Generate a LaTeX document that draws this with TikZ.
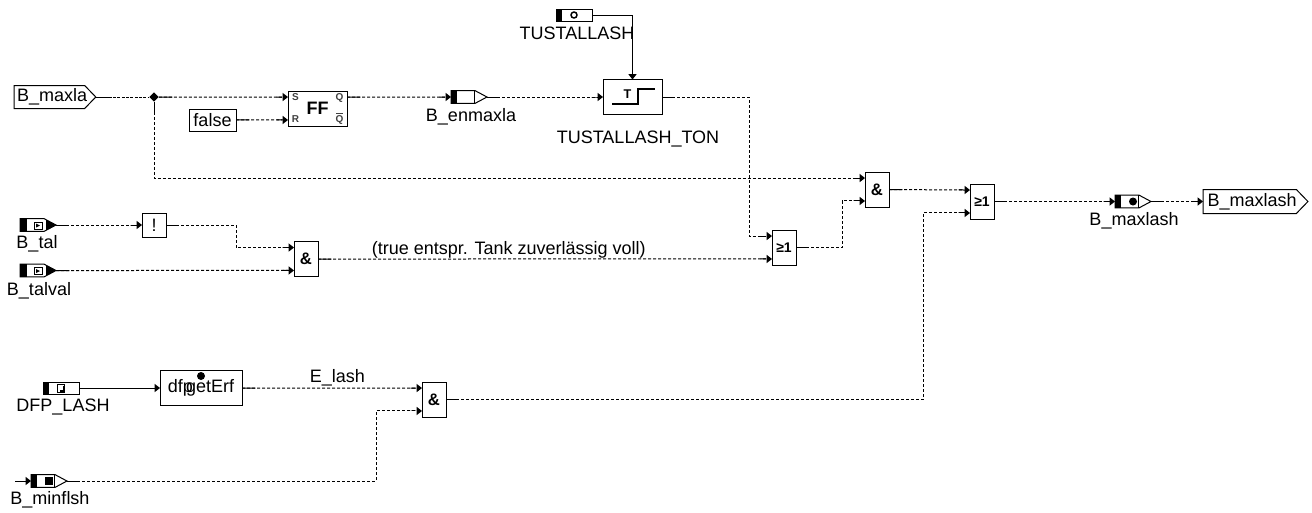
\documentclass[tikz,border=0pt]{standalone}
\usepackage{fontspec}
\setmainfont{Liberation Sans}
\usetikzlibrary{shapes.geometric, shapes.symbols, arrows.meta, positioning, calc}
\tikzstyle{txt} = [font=\fontsize{13.5pt}{16pt}\selectfont, inner sep=0pt, outer sep=0pt]
\tikzstyle{lbl} = [txt, fill=none]
\tikzstyle{gate} = [rectangle, draw=black, fill=white, line width=0.75pt, inner sep=0pt, outer sep=0pt,
    minimum width=18pt, minimum height=26.25pt, font=\fontsize{12.5pt}{14pt}\selectfont\bfseries]
\tikzstyle{orgate} = [gate, font=\fontsize{10.5pt}{13pt}\selectfont\bfseries]
\tikzstyle{block} = [gate, minimum width=44.25pt, font=\fontsize{13.5pt}{16pt}\selectfont\bfseries]
\tikzstyle{pin} = [inner sep=0pt, outer sep=0pt, text=black!75, font=\fontsize{7.5pt}{9pt}\selectfont\bfseries]
\tikzstyle{flow} = [signal, signal to=east, signal from=nowhere, signal pointer angle=92, draw=black,
    fill=white, line width=0.75pt, inner sep=0pt, outer sep=0pt, anchor=west, minimum height=17.25pt,
    font=\fontsize{13.5pt}{16pt}\selectfont]
\tikzstyle{port} = [signal, signal to=east, signal from=nowhere, signal pointer angle=56, draw=black,
    fill=white, line width=0.75pt, inner sep=0pt, outer sep=0pt, anchor=west,
    minimum width=27pt, minimum height=9.5pt]
\tikzstyle{param} = [rectangle, draw=black, fill=white, line width=0.75pt, inner sep=0pt, outer sep=0pt,
    anchor=west, minimum width=27pt, minimum height=9pt]
\tikzstyle{band} = [path picture={\fill[black] (path picture bounding box.north west) rectangle ++(5.5,20);}]
\tikzstyle{bandtail} = [path picture={\fill[black] (path picture bounding box.north west) rectangle ++(5.5,20);
    \draw ([xshift=-9.5pt]path picture bounding box.north east) -- ++(0,20);}]
\tikzstyle{bandtip} = [path picture={\fill[black] (path picture bounding box.north west) rectangle ++(7,20);
    \fill[black] (path picture bounding box.north east) rectangle ++(-10,20);}]
\tikzstyle{wire} = [line width=0.75pt, dash pattern=on 2.25pt off 1.5pt,
    -{Rectangle[length=5pt,width=0.75pt,sep=0pt]Triangle[length=4pt,width=6pt]},
    postaction={draw, dash pattern=on 10pt off 5000pt, arrows=-}]
\tikzstyle{bare} = [line width=0.75pt, dash pattern=on 2.25pt off 1pt,
    postaction={draw, dash pattern=on 10pt off 5000pt}]
\tikzstyle{tie} = [line width=0.75pt, -{Triangle[length=4pt,width=6pt]}]
\newcommand{\inpin}{8.6pt}

\begin{document}
\begin{tikzpicture}[x=0.75pt, y=-0.75pt]
\useasboundingbox (0,0) rectangle (1312,512);
% --- eingaenge ---
\node (maxla) [flow] at (14,97) {\makebox[53pt][l]{\hspace{2.25pt}B\_maxla}};
\node (junct) [diamond, fill=black, inner sep=0pt, minimum size=7pt] at (154,97) {};
\node (false) [gate, minimum width=35.25pt, minimum height=16.5pt, font=\fontsize{13.5pt}{16pt}\selectfont] at (212.5,120) {false};
\node (taltp) [port, bandtip] at (20,225) {};
\node (talval) [port, bandtip] at (20,270.5) {};
\node (dfplash) [param, band] at (43,388) {};
\node (minflsh) [port, bandtail] at (31,481) {};
\node (tustall) [param, band] at (556,15) {};
\coordinate (minfree) at (15,481);

% --- bausteine ---
\node (ff) [block] at (317.5,108.5) {FF};
\node (ton) [block] at (632.5,97) {};
\node (tonT) [pin, text=black, font=\fontsize{9.5pt}{11pt}\selectfont\bfseries] at (627.5,94.5) {T};
\node (enmaxla) [port, bandtail] at (451,97) {};
\node (notg) [gate, minimum height=18pt, font=\fontsize{13.5pt}{16pt}\selectfont] at (154,225) {!};
\node (anda) [gate] at (306,259) {\&};
\node (dfpget) [gate, minimum width=61.5pt, font=\fontsize{13.5pt}{16pt}\selectfont] at (201,388) {dfp\hspace{-5pt}getErf};
\node (andb) [gate] at (434,399.5) {\&};
\node (ora) [orgate] at (784,247.5) {≥1};
\node (andc) [gate] at (877,189.5) {\&};
\node (orb) [orgate] at (982,201.5) {≥1};
\node (maxlash) [port, bandtail] at (1115,201.5) {};
\node (maxout) [flow, minimum height=18pt] at (1203,201.5) {\makebox[70pt][l]{\hspace{3.5pt}B\_maxlash}};

% --- beschriftung FF ---
\node (ffs) [pin] at (295.5,97.5) {S};
\node (ffr) [pin] at (295.5,119.5) {R};
\node (ffq) [pin] at (339.5,97.5) {Q};
\node (ffqn) [pin] at (339.5,119.5) {Q};
\draw[line width=0.6pt, black!75] (336,113) -- (343,113);

% --- symbole ---
\draw[line width=1.5pt] (612,104) -- (638,104) -- (638,89) -- (655,89);
\draw[line width=0.75pt] (34,222) rectangle (42,229);
\fill (36,223.5) -- (40,225.5) -- (36,227.5) -- cycle;
\draw[line width=0.75pt] (34,267.5) rectangle (42,274.5);
\fill (36,269) -- (40,271) -- (36,273) -- cycle;
\draw[line width=0.75pt] (57,384) rectangle (64,392);
\draw[line width=1.5pt] (60,391) -- (63.5,391) -- (63.5,386);
\fill (45,477) rectangle (53,485);
\fill (1133,201.5) circle (4);
\draw[line width=1.1pt] (574,15) circle (3);
\fill (201,376) circle (4);

% --- texte ---
\node (tustxt) [lbl] at (577,33) {TUSTALLASH};
\node (tontxt) [lbl] at (638,138.5) {TUSTALLASH\_TON};
\node (enmtxt) [lbl] at (471,116.5) {B\_enmaxla};
\node (taltxt) [lbl] at (37,243.5) {B\_tal};
\node (tvtxt) [lbl] at (39,290.5) {B\_talval};
\node (dfptxt) [lbl] at (63,406.5) {DFP\_LASH};
\node (mintxt) [lbl] at (50,499.5) {B\_minflsh};
\node (mlstxt) [lbl] at (1134,220.5) {B\_maxlash};

% --- verbindungen ---
\draw[bare] (maxla.east) -- (junct);
\draw[wire] (junct) -- ([yshift=\inpin]ff.west);
\draw[wire] (junct) |- ([yshift=\inpin]andc.west);
\draw[wire] (false) -- ([yshift=-\inpin]ff.west);
\draw[wire] ([yshift=\inpin]ff.east) -- (enmaxla.west);
\draw[wire] (enmaxla.east) -- (ton.west);
\draw[tie] (tustall.east) -| (ton.north);
\draw[wire] (ton.east) -- ++(87,0) |- ([yshift=\inpin]ora.west);
\draw[wire] (taltp.east) -- (notg.west);
\draw[wire] (notg.east) -- ++(70,0) |- ([yshift=\inpin]anda.west);
\draw[wire] (talval.east) -- ([yshift=-\inpin]anda.west);
\draw[wire] (anda.east) -- node[lbl, pos=0.42, above=0.5pt] (tanktxt) {(true entspr. Tank zuverlässig voll)} ([yshift=-\inpin]ora.west);
\draw[wire] (ora.east) -- ++(46,0) |- ([yshift=-\inpin]andc.west);
\draw[wire] (andc.east) -- ([yshift=\inpin]orb.west);
\draw[tie] (dfplash.east) -- (dfpget.west);
\draw[wire] (dfpget.east) -- node[lbl, pos=0.53, above=1.5pt] (elash) {E\_lash} ([yshift=\inpin]andb.west);
\draw[tie] (minfree) -- (minflsh.west);
\draw[wire] (minflsh.east) -- ++(309,0) |- ([yshift=-\inpin]andb.west);
\draw[wire] (andb.east) -- ++(477,0) |- ([yshift=-\inpin]orb.west);
\draw[wire] (orb.east) -- (maxlash.west);
\draw[wire] (maxlash.east) -- (maxout.west);
\end{tikzpicture}
\end{document}
